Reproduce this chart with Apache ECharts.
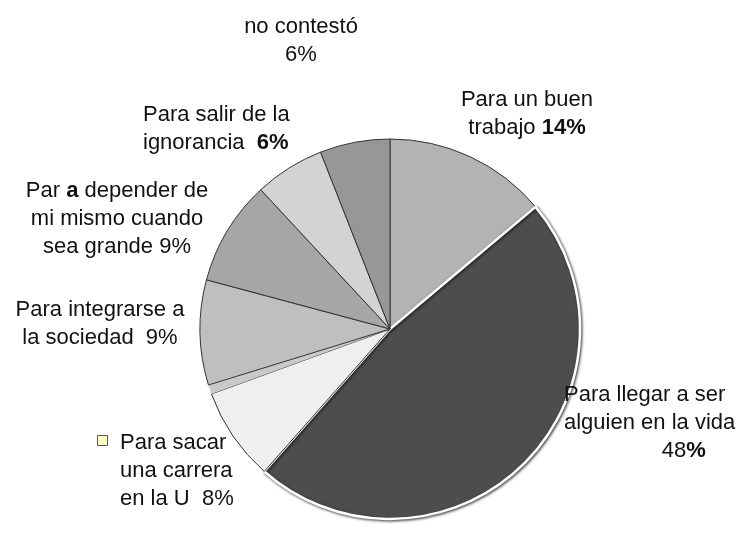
<!DOCTYPE html>
<html lang="es">
<head>
    <meta charset="UTF-8">
    <title>Para qué estudiar</title>
    <script src="https://cdn.jsdelivr.net/npm/echarts@6/dist/echarts.min.js"></script>
    <style>
        body { margin: 0; background: #fff; }
        #chart { width: 745px; height: 534px; }
    </style>
</head>
<body>
    <div id="chart"></div>
    <script>
        // categorias y porcentajes (en sentido horario desde arriba)
        var categorias = [
            'Para un buen trabajo',
            'Para llegar a ser alguien en la vida',
            'Para sacar una carrera en la U',
            'sin respuesta',
            'Para integrarse a la sociedad',
            'Para depender de mi mismo cuando sea grande',
            'Para salir de la ignorancia',
            'no contestó'
        ];
        var valores = [14, 48, 8, 0.8, 9, 9, 6, 6];
        var etiquetas = [
            'Para un buen\ntrabajo {b|14%}',
            'Para llegar a ser\nalguien en la vida\n                48{b|%}',
            'Para sacar\nuna carrera\nen la U  8%',
            '',
            'Para integrarse a\nla sociedad  9%',
            'Par {b|a} depender de\nmi mismo cuando\nsea grande 9%',
            'Para salir de la\nignorancia  {b|6%}',
            'no contestó\n6%'
        ];
        var colores = ['#b3b3b3', '#4d4d4d', '#efefef', '#c9c9c9', '#bfbfbf', '#a6a6a6', '#d3d3d3', '#979797'];

        // posición de cada etiqueta: [x, y arriba, alineación]
        var posEtiquetas = [
            [527, 86, 'center'],
            [564, 381, 'left'],
            [120, 429, 'left'],
            [0, 0, 'left'],
            [100, 296, 'center'],
            [117, 177, 'center'],
            [143, 101, 'left'],
            [301, 13, 'center']
        ];

        var chart = echarts.init(document.getElementById('chart'));

        var datos = categorias.map(function (nombre, i) {
            var item = {
                name: nombre,
                value: valores[i],
                itemStyle: { color: colores[i] },
                label: { show: etiquetas[i] !== '' }
            };
            if (i === 3) {
                item.itemStyle.borderWidth = 0;
            }
            if (i === 1) {
                // la tajada grande va separada con un filo blanco
                item.itemStyle.borderColor = '#fff';
                item.itemStyle.borderWidth = 2.5;
                item.itemStyle.shadowColor = 'rgba(0,0,0,0.7)';
                item.itemStyle.shadowBlur = 3;
                item.itemStyle.shadowOffsetX = 1;
                item.itemStyle.shadowOffsetY = 1;
            }
            return item;
        });

        chart.setOption({
            animation: false,
            legend: {
                left: 97,
                top: 435,
                padding: 0,
                icon: 'rect',
                itemWidth: 10,
                itemHeight: 10,
                selectedMode: false,
                formatter: function () { return ''; },
                data: [{
                    name: categorias[2],
                    itemStyle: { color: '#ffffcc', borderColor: '#555', borderWidth: 1 }
                }]
            },
            series: [{
                type: 'pie',
                center: [390, 329],
                radius: 190,
                startAngle: 90,
                clockwise: true,
                avoidLabelOverlap: false,
                itemStyle: { borderColor: '#333', borderWidth: 1 },
                emphasis: { disabled: true },
                labelLine: { show: false },
                label: {
                    position: 'outside',
                    fontFamily: 'Liberation Sans, Arial, sans-serif',
                    fontSize: 22,
                    lineHeight: 28,
                    color: '#111',
                    formatter: function (p) { return etiquetas[p.dataIndex]; },
                    rich: {
                        b: { fontWeight: 'bold', fontSize: 22, lineHeight: 28, color: '#111' }
                    }
                },
                labelLayout: function (p) {
                    var pos = posEtiquetas[p.dataIndex];
                    return { x: pos[0], y: pos[1], align: pos[2], verticalAlign: 'top' };
                },
                data: datos
            }]
        });
    </script>
</body>
</html>
